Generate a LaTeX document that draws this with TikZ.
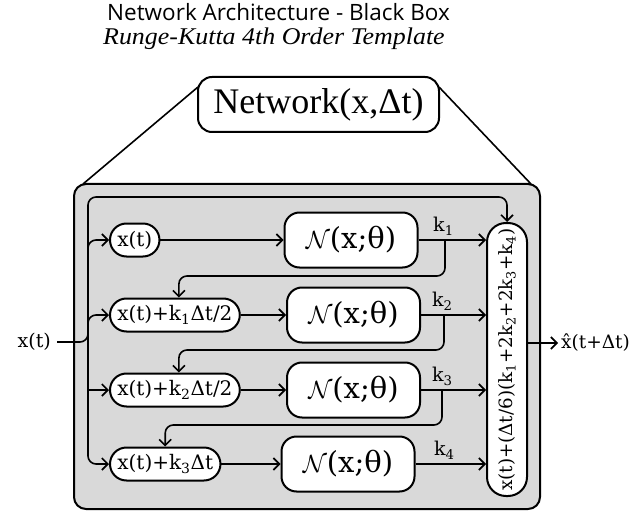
\documentclass[tikz,border=0pt]{standalone}
\usepackage{fontspec}
\setmainfont{DejaVu Serif}
\newfontfamily\titlefont{Open Sans}
\newfontfamily\timesfont{Liberation Serif}
\usetikzlibrary{arrows.meta,shapes.misc}
\definecolor{boxgrey}{RGB}{217,217,217}
\tikzset{
  lw/.style={line width=1.6pt},
  arr/.style={lw,-{Straight Barb[length=6pt,width=12pt,line width=1.6pt]}},
  rc/.style={rounded corners=8pt},
  pill/.style={rounded rectangle,draw,line width=2pt,fill=white,minimum height=33pt,inner xsep=4.5pt,inner ysep=2pt,font=\fontsize{20}{22}\selectfont,anchor=west},
  nbox/.style={draw,line width=2pt,fill=white,rounded corners=15pt,minimum width=133pt,minimum height=55pt,font=\fontsize{29}{32}\selectfont},
  klab/.style={font=\fontsize{19}{20}\selectfont,inner sep=1pt}
}
\newcommand{\sub}[1]{\textsubscript{#1}}
\begin{document}
\begin{tikzpicture}[x=1pt,y=-1pt]
\useasboundingbox (0,0) rectangle (634,513);
% titles
\node[anchor=base west,inner sep=0pt,font=\titlefont\fontsize{22.5}{25}\selectfont] (title) at (107,21) {Network Architecture - Black Box};
\node[anchor=base west,inner sep=0pt,font=\timesfont\itshape\fontsize{24}{26}\selectfont] (subtitle) at (103,45) {\scalebox{1.08}[1]{Runge-Kutta 4th Order Template}};
% network box
\node[draw,line width=2pt,rounded corners=14pt,minimum width=241pt,minimum height=55pt,font=\timesfont\fontsize{36}{40}\selectfont,fill=white] (net) at (318.5,104.5) {Network(x,Δt)};
% grey box
\node[draw,line width=2pt,rounded corners=12pt,fill=boxgrey,minimum width=466pt,minimum height=325pt] (bb) at (307,346.5) {};
\coordinate (tl) at (83,184);
\coordinate (tr) at (531,184);
\draw[lw] ([xshift=1pt,yshift=-11pt]net.north west) -- (tl);
\draw[lw] ([xshift=-1pt,yshift=-11pt]net.north east) -- (tr);
% row nodes
\node[pill] (a1) at (109,240) {x(t)};
\node[pill] (a2) at (109,315) {x(t)+k\sub{1}Δt/2};
\node[pill] (a3) at (109,390) {x(t)+k\sub{2}Δt/2};
\node[pill] (a4) at (109,464) {x(t)+k\sub{3}Δt};
\node[nbox] (n1) at (351,240) {$\mathcal{N}$(x;θ)};
\node[nbox] (n2) at (353.5,315) {$\mathcal{N}$(x;θ)};
\node[nbox] (n3) at (353.5,390) {$\mathcal{N}$(x;θ)};
\node[nbox] (n4) at (348,464) {$\mathcal{N}$(x;θ)};
% sum box
\node[draw,line width=2pt,fill=white,rounded corners=19pt,minimum width=40pt,minimum height=273pt,inner sep=0pt,font=\fontsize{18.3}{20}\selectfont] (sum) at (507,359.5) {\rotatebox{90}{x(t)+(Δt/6)(k\sub{1}+2k\sub{2}+2k\sub{3}+k\sub{4})}};
% input / output
\node[anchor=east,inner xsep=6pt,font=\fontsize{19}{20}\selectfont] (xin) at (57,342) {x(t)};
\node[anchor=west,inner xsep=3pt,font=\fontsize{18.5}{20}\selectfont] (xout) at (558,343) {x̂(t+Δt)};
% bus
\draw[arr,rc] (xin.east) -- (88,342) -- (88,197) -| (sum.north);
\draw[arr,rc] (88,342) |- (a1.west);
\draw[arr,rc] (88,342) |- (a2.west);
\draw[arr] (88,390) -- (a3.west);
\draw[arr,rc] (88,342) |- (a4.west);
% rows
\draw[arr] (a1.east) -- (n1.west);
\draw[arr] (a2.east) -- (n2.west);
\draw[arr] (a3.east) -- (n3.west);
\draw[arr] (a4.east) -- (n4.west);
\draw[arr] (n1.east) -- (n1.east -| sum.west) node[klab,pos=0.37,above=3pt] {k\sub{1}};
\draw[arr] (n2.east) -- (n2.east -| sum.west) node[klab,pos=0.33,above=3pt] {k\sub{2}};
\draw[arr] (n3.east) -- (n3.east -| sum.west) node[klab,pos=0.33,above=3pt] {k\sub{3}};
\draw[arr] (n4.east) -- (n4.east -| sum.west) node[klab,pos=0.41,above=3pt] {k\sub{4}};
% feedback
\draw[arr,rc] (445,240) -- (445,276) -| ([xshift=4pt]a2.north);
\draw[arr,rc] (444,315) -- (444,350) -| ([xshift=4pt]a3.north);
\draw[arr,rc] (442,390) -- (442,425) -| (a4.north);
% output
\draw[arr] ([yshift=16.5pt]sum.east) -- (xout.west);
\end{tikzpicture}
\end{document}
